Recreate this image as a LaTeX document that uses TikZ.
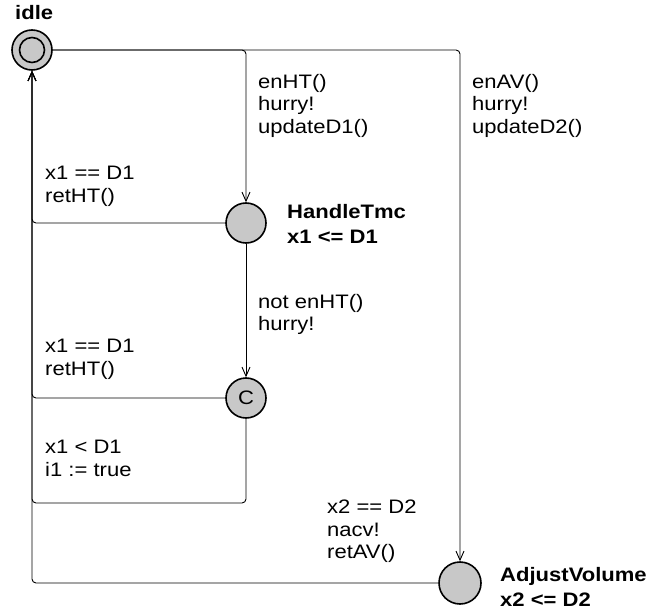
\documentclass[tikz,border=0pt]{standalone}
\usepackage{fontspec}
\setmainfont[FakeStretch=1.13]{Liberation Sans}
\usetikzlibrary{arrows.meta}
\definecolor{locgray}{RGB}{200,200,200}
\begin{document}
\begin{tikzpicture}[x=1pt,y=-1pt,
  every node/.style={inner sep=0pt},
  loc/.style={circle, draw=black, line width=1.6pt, fill=locgray, minimum size=40pt,
    font=\fontsize{19.5}{22.5}\selectfont},
  trans/.style={draw=black, line width=0.9pt, rounded corners=4pt,
    -{Straight Barb[length=9pt,width=8pt,line width=0.9pt]}},
  lbl/.style={anchor=north west, align=left, font=\fontsize{19.5}{22.5}\selectfont},
  locname/.style={anchor=north west, align=left, font=\bfseries\fontsize{19.5}{25}\selectfont}
]
\useasboundingbox (0,0) rectangle (659,615);

% locations
\node[loc, minimum size=40pt] (idle) at (32,50) {};
\node[circle, draw=black, line width=1.6pt, minimum size=25pt] (idlein) at (idle) {};
\node[loc] (HT) at (246,223) {};
\node[loc] (C) at (246,398) {C};
\node[loc, minimum size=42pt] (AV) at (460,583) {};

% location names and invariants
\node[locname] (idlename) at (15,5) {idle};
\node[locname] (HTname) at (287,204) {HandleTmc\\x1 <= D1};
\node[locname] (AVname) at (500,567) {AdjustVolume\\x2 <= D2};

% corner points of the return edges
\coordinate (retC) at (32,503);

% transitions
\draw[trans] (idle.east) -| (HT.north);
\draw[trans] (idle.east) -| (AV.north);
\draw[trans] (HT.south) -- (C.north);
\draw[trans] (HT.west) -| (idle.south);
\draw[trans] (C.west) -| (idle.south);
\draw[trans] (C.south) |- (retC) -- (idle.south);
\draw[trans] (AV.west) -| (idle.south);

% transition labels
\node[lbl] (l1) at (258,74) {enHT()\\hurry!\\updateD1()};
\node[lbl] (l2) at (472,74) {enAV()\\hurry!\\updateD2()};
\node[lbl] (l3) at (45,166) {x1 == D1\\retHT()};
\node[lbl] (l4) at (258,294) {not enHT()\\hurry!};
\node[lbl] (l5) at (45,339) {x1 == D1\\retHT()};
\node[lbl] (l6) at (45,440) {x1 < D1\\i1 := true};
\node[lbl] (l7) at (327,500) {x2 == D2\\nacv!\\retAV()};
\end{tikzpicture}
\end{document}
